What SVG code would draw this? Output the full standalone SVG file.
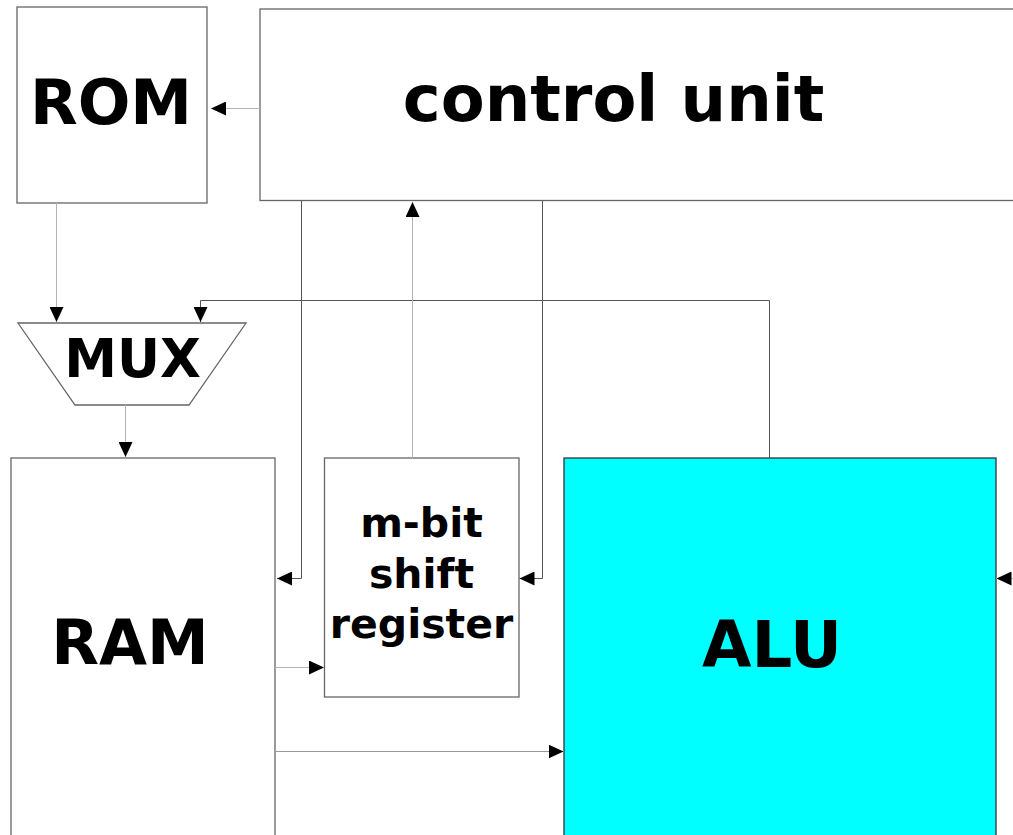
<svg xmlns="http://www.w3.org/2000/svg" width="1013" height="835" viewBox="0 0 1013 835">
<style>
.box{fill:#fff;stroke:#666;stroke-width:1.3}
.alu{fill:#00ffff;stroke:#333;stroke-width:1.3}
.lbl{font-family:"DejaVu Sans","Liberation Sans",sans-serif;font-weight:bold;fill:#000;text-anchor:middle}
.lt{fill:none;stroke:#b4b4b4;stroke-width:1;marker-end:url(#ah)}
.dk{fill:none;stroke:#555;stroke-width:1;marker-end:url(#ah)}
.md{fill:none;stroke:#999;stroke-width:1;marker-end:url(#ah)}
</style>
<defs>
<marker id="ah" viewBox="0 0 15 14" refX="15" refY="7" markerWidth="15" markerHeight="14" markerUnits="userSpaceOnUse" orient="auto">
<path d="M0,0 L15,7 L0,14 Z" fill="#000"/>
</marker>
</defs>
<rect width="1013" height="835" fill="#fff"/>
<g id="rom">
<rect class="box" x="17" y="7" width="190" height="196"/>
<text class="lbl" x="111" y="124" font-size="62">ROM</text>
</g>
<g id="control-unit">
<rect class="box" x="260" y="9" width="800" height="191.5"/>
<text class="lbl" x="613.5" y="121" font-size="64">control unit</text>
</g>
<g id="mux">
<polygon class="box" points="18,323 246,323 189,405 75,405"/>
<text class="lbl" x="132.5" y="377" font-size="53">MUX</text>
</g>
<g id="ram">
<rect class="box" x="11" y="458" width="264" height="420"/>
<text class="lbl" x="130" y="664" font-size="62">RAM</text>
</g>
<g id="shift-register">
<rect class="box" x="324.5" y="458" width="194.5" height="239"/>
<text class="lbl" x="421.5" y="537" font-size="41">m-bit</text>
<text class="lbl" x="421.5" y="588" font-size="41">shift</text>
<text class="lbl" x="421.5" y="638" font-size="41">register</text>
</g>
<g id="alu">
<rect class="alu" x="564" y="458" width="432" height="420"/>
<text class="lbl" x="772" y="667" font-size="64">ALU</text>
</g>
<g id="connectors">
<path class="lt" d="M260,108.5 H211"/>
<path class="lt" d="M56.5,203 V322"/>
<path class="dk" d="M769.5,458 V300.5 H200.5 V322"/>
<path class="lt" d="M125.5,405 V457"/>
<path class="dk" d="M301.5,200.5 V578.5 H277"/>
<path class="dk" d="M542.5,200.5 V578.5 H519.5"/>
<path class="lt" d="M412.5,458 V202"/>
<path class="lt" d="M275,667.5 H324"/>
<path class="md" d="M275,751.5 H563.5"/>
<path class="lt" d="M1013,578.5 H996.5"/>
</g>
</svg>
